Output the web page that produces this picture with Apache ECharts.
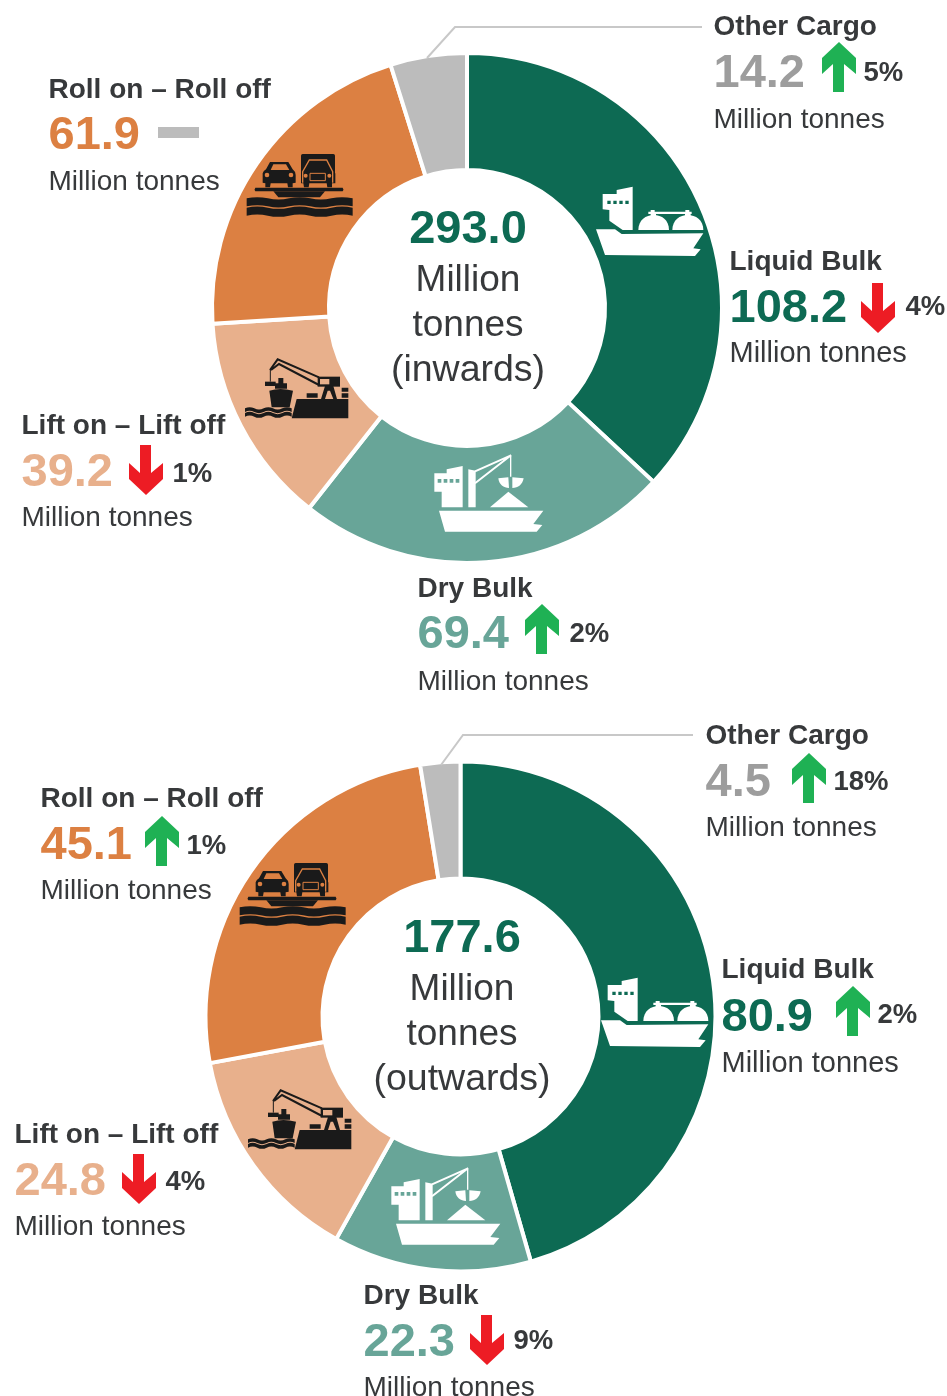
<!DOCTYPE html>
<html><head><meta charset="utf-8">
<style>html,body{margin:0;padding:0;background:#fff}#c{width:947px;height:1396px}</style>
<script src="https://cdn.jsdelivr.net/npm/echarts@6/dist/echarts.min.js"></script>
</head><body><div id="c"></div>
<script>
const categories = ['Liquid Bulk','Dry Bulk','Lift on – Lift off','Roll on – Roll off','Other Cargo'];
const inwardValues = [108.2,69.4,39.2,61.9,14.2];
const outwardValues = [80.9,22.3,24.8,45.1,4.5];
const inwardChange = [-4,2,-1,0,5];
const outwardChange = [2,-9,-4,1,18];
const inwardTotal = '293.0';
const outwardTotal = '177.6';
const unitLabel = 'Million tonnes';
const colours = ['#0d6a53','#68a598','#e8b08c','#dc8042','#bcbcbc'];
const valueColours = ['#0d6a53','#68a598','#e8b08c','#dc8042','#9d9d9d'];
const unitSizes = [29,28,28,28,28];
const FONT = '"Liberation Sans", Arial, sans-serif';
const INK = '#37393b';

// layout: x, name y, value y, unit y, arrow x, arrow y, pct x, pct y
const inLayout = [
 [730,260,307,352,861,283,906,305],
 [418,587,633,680,525,604,570,632],
 [22,424,471,516,129,445,173,472],
 [49,88,134,180,158,127,0,0],
 [714,25,72,118,822,42,864,71]
];
const outLayout = [
 [722,968,1016,1062,836,986,878,1013],
 [364,1294,1341,1386,470,1315,514,1339],
 [15,1133,1180,1225,122,1154,166,1180],
 [41,797,844,889,145,816,187,844],
 [706,734,781,826,792,753,834,780]
];

const wave = (x0,y,x1,h) => {
  const seg = (x1-x0)/5; let top = `M${x0},${y}`, bot = '';
  for (let i=1;i<=5;i++){ top += ` Q${x0+seg*(i-.5)},${y+(i%2?-7:7)} ${x0+seg*i},${y}`; }
  bot = ` L${x1},${y+h}`;
  for (let i=5;i>=1;i--){ bot += ` Q${x0+seg*(i-.5)},${y+h+(i%2?-7:7)} ${x0+seg*(i-1)},${y+h}`; }
  return top+bot+' Z';
};

const shipLiquid = [
 {d:'M68,72 L110,72 L110,60 L158,50 L158,180 L128,180 L88,152 L88,120 L68,118 Z',f:'fg'},
 {d:'M82,92 h10 v10 h-10 Z M100,92 h10 v10 h-10 Z M118,92 h10 v10 h-10 Z M136,92 h10 v10 h-10 Z',f:'bg'},
 {d:'M48,178 L105,178 L125,192 L370,190 L340,235 L362,238 L345,258 L75,255 Z',f:'fg'},
 {d:'M175,180 C175,150 198,135 221,135 C245,135 267,150 267,180 Z',f:'fg'},
 {d:'M277,180 C277,150 300,135 323,135 C347,135 370,150 370,180 Z',f:'fg'},
 {d:'M205,125 L335,125 L335,132 L228,132 L228,140 L212,140 L212,132 L205,132 Z M315,130 L332,130 L332,140 L315,140 Z M212,120 h12 v6 h-12 Z M316,120 h12 v6 h-12 Z',f:'fg'}
];
const shipDry = [
 {d:'M28,70 L65,70 L65,58 L113,48 L113,172 L50,172 L50,125 L28,125 Z',f:'fg'},
 {d:'M38,87 h11 v11 h-11 Z M56,87 h11 v11 h-11 Z M74,87 h11 v11 h-11 Z M92,87 h11 v11 h-11 Z',f:'bg'},
 {d:'M130,58 L152,62 L152,172 L130,172 Z',f:'fg'},
 {d:'M150,64 L258,16 M150,100 L258,16',s:'fg',w:6},
 {d:'M257,16 L257,80',s:'fg',w:4},
 {d:'M220,85 L250,82 L252,114 C236,114 222,104 220,85 Z M262,82 L296,85 C292,104 280,114 262,114 Z',f:'fg'},
 {d:'M195,172 L250,125 L310,172 Z',f:'fg'},
 {d:'M42,182 L355,182 L325,222 L352,225 L335,245 L60,245 Z',f:'fg'}
];
const roro = [
 {d:'M98,128 L98,100 Q100,92 108,88 L120,66 L175,66 L188,88 Q197,95 197,105 L197,128 L188,130 L188,142 L174,142 L172,130 L122,130 L120,142 L106,142 L106,130 Z',f:'fg'},
 {d:'M122,90 L130,73 L168,73 L178,90 Z',f:'bg'},
 {d:'M104,105 a7,7 0 1,0 14,0 a7,7 0 1,0 -14,0 Z M176,105 a7,7 0 1,0 14,0 a7,7 0 1,0 -14,0 Z',f:'bg'},
 {d:'M218,42 L310,42 Q315,42 315,47 L315,128 L213,128 L213,47 Q213,42 218,42 Z',f:'fg'},
 {d:'M213,100 L316,100 L316,130 L306,130 L306,142 L292,142 L290,130 L238,130 L236,142 L222,142 L220,130 L213,130 Z',f:'fg'},
 {d:'M240,100 h46 v22 h-46 Z',s:'bg',w:3},
 {d:'M218,128 L218,95 L238,60 L290,60 L308,95 L308,128',s:'bg',w:4},
 {d:'M221,107 a6,6 0 1,0 12,0 a6,6 0 1,0 -12,0 Z M292,107 a6,6 0 1,0 12,0 a6,6 0 1,0 -12,0 Z',f:'bg'},
 {d:'M76,143 L338,143 Q343,149 338,154 L76,154 Q71,149 76,143 Z',f:'fg'},
 {d:'M130,154 L285,154 L270,172 L145,172 Z',f:'fg'},
 {d:wave(50,175,368,24),f:'fg'},
 {d:wave(50,203,368,24),f:'fg'}
];
const lolo = [
 {d:'M105,60 L128,28 L252,82 M108,60 L132,42 L252,105',s:'fg',w:6},
 {d:'M106,60 L106,95',s:'fg',w:3},
 {d:'M90,95 h32 v13 h-32 Z',f:'fg'},
 {d:'M248,80 L315,80 L315,110 L248,110 Z',f:'fg'},
 {d:'M255,87 h28 v16 h-28 Z',f:'bg'},
 {d:'M258,147 L270,108 L295,108 L306,147 L295,147 L285,122 L278,122 L270,147 Z',f:'fg'},
 {d:'M215,130 h33 v13 h-33 Z M320,113 h20 v12 h-20 Z M320,130 h20 v13 h-20 Z',f:'fg'},
 {d:'M185,147 L340,147 L340,205 L170,205 Z',f:'fg'},
 {d:'M103,122 Q135,112 174,122 L164,172 L110,172 Z',f:'fg'},
 {d:'M120,100 h36 v16 h-36 Z M130,84 h15 v18 h-15 Z',f:'fg'},
 {d:wave(30,175,170,11),f:'fg'},
 {d:wave(30,189,170,11),f:'fg'}
];

const z = 100;
const els = [];
const shapeNames = new Map();
function shapeFor(d){
  if (!shapeNames.has(d)){
    const n = 'iconPath'+shapeNames.size;
    echarts.graphic.registerShape(n, echarts.graphic.extendPath(d,{}));
    shapeNames.set(d,n);
  }
  return shapeNames.get(d);
}
function icon(layers, ox, oy, fg, bg){
  layers.forEach(l=>{
    const style = l.f ? {fill:l.f==='fg'?fg:bg} : {fill:'none',stroke:l.s==='fg'?fg:bg,lineWidth:l.w};
    els.push({type:shapeFor(l.d),x:ox,y:oy,scaleX:1/3,scaleY:1/3,z,silent:true,style});
  });
}
function txt(x,y,text,size,fill,weight,align){
  els.push({type:'text',x:x-(align?0:0.5),y:y+2,z,silent:true,style:{text,fontFamily:FONT,fontSize:size,fontWeight:weight||'normal',fill,
    textAlign:align||'left',textVerticalAlign:'middle',verticalAlign:'middle'}});
}
function arrow(x,y,up){
  const p = [[17,0],[34,16],[34,32],[22,22],[22,50],[11,50],[11,22],[0,32],[0,16]];
  els.push({type:'polygon',z,silent:true,shape:{points:p.map(q=>[x+q[0],y+(up?q[1]:50-q[1])])},
    style:{fill:up?'#1fb154':'#ed1c24'}});
}
function block(values,changes,layout){
  categories.forEach((name,i)=>{
    const L = layout[i];
    txt(L[0],L[1],name,28,INK,'bold');
    txt(L[0],L[2],values[i].toFixed(1),47,valueColours[i],'bold');
    txt(L[0],L[3],unitLabel,unitSizes[i],INK);
    if (changes[i]===0){
      els.push({type:'rect',z,silent:true,shape:{x:L[4],y:L[5],width:41,height:11},style:{fill:'#bcbcbc'}});
    } else {
      arrow(L[4],L[5],changes[i]>0);
      txt(L[6],L[7],Math.abs(changes[i])+'%',27.5,INK,'bold');
    }
  });
}
block(inwardValues,inwardChange,inLayout);
block(outwardValues,outwardChange,outLayout);

[[467,[228,279,324,369],inwardTotal,'(inwards)'],[461,[937,988,1033,1078],outwardTotal,'(outwards)']].forEach(c=>{
  txt(c[0]+1,c[1][0],c[2],47,colours[0],'bold','center');
  txt(c[0]+1,c[1][1],'Million',37,INK,'normal','center');
  txt(c[0]+1,c[1][2],'tonnes',37,INK,'normal','center');
  txt(c[0]+1,c[1][3],c[3],37.5,INK,'normal','center');
});

[[[427,58],[455,27],[702,27]],[[441,765],[463,735],[693,735]]].forEach(pts=>{
  els.push({type:'polyline',z,silent:true,shape:{points:pts},style:{stroke:'#c8c8c8',lineWidth:2,fill:'none'}});
});

icon(shipLiquid,580,170,'#fff',colours[0]);
icon(shipLiquid,585,961,'#fff',colours[0]);
icon(shipDry,425,450,'#fff',colours[1]);
icon(shipDry,382,1163,'#fff',colours[1]);
icon(lolo,235,350,'#1a1a1a',colours[2]);
icon(lolo,238,1081,'#1a1a1a',colours[2]);
icon(roro,230,140,'#1a1a1a',colours[3]);
icon(roro,223,849,'#1a1a1a',colours[3]);

const pie = (values,center)=>({
  type:'pie',center,radius:[138,255],startAngle:90,clockwise:true,silent:true,
  label:{show:false},labelLine:{show:false},
  itemStyle:{borderColor:'#fff',borderWidth:4},
  data:values.map((v,i)=>({name:categories[i],value:v,itemStyle:{color:colours[i]}}))
});

const chart = echarts.init(document.getElementById('c'),null,{renderer:'canvas'});
chart.setOption({
  animation:false,backgroundColor:'#fff',
  series:[pie(inwardValues,[467,308]),pie(outwardValues,[460.5,1016.5])],
  graphic:{elements:els}
});
</script></body></html>
